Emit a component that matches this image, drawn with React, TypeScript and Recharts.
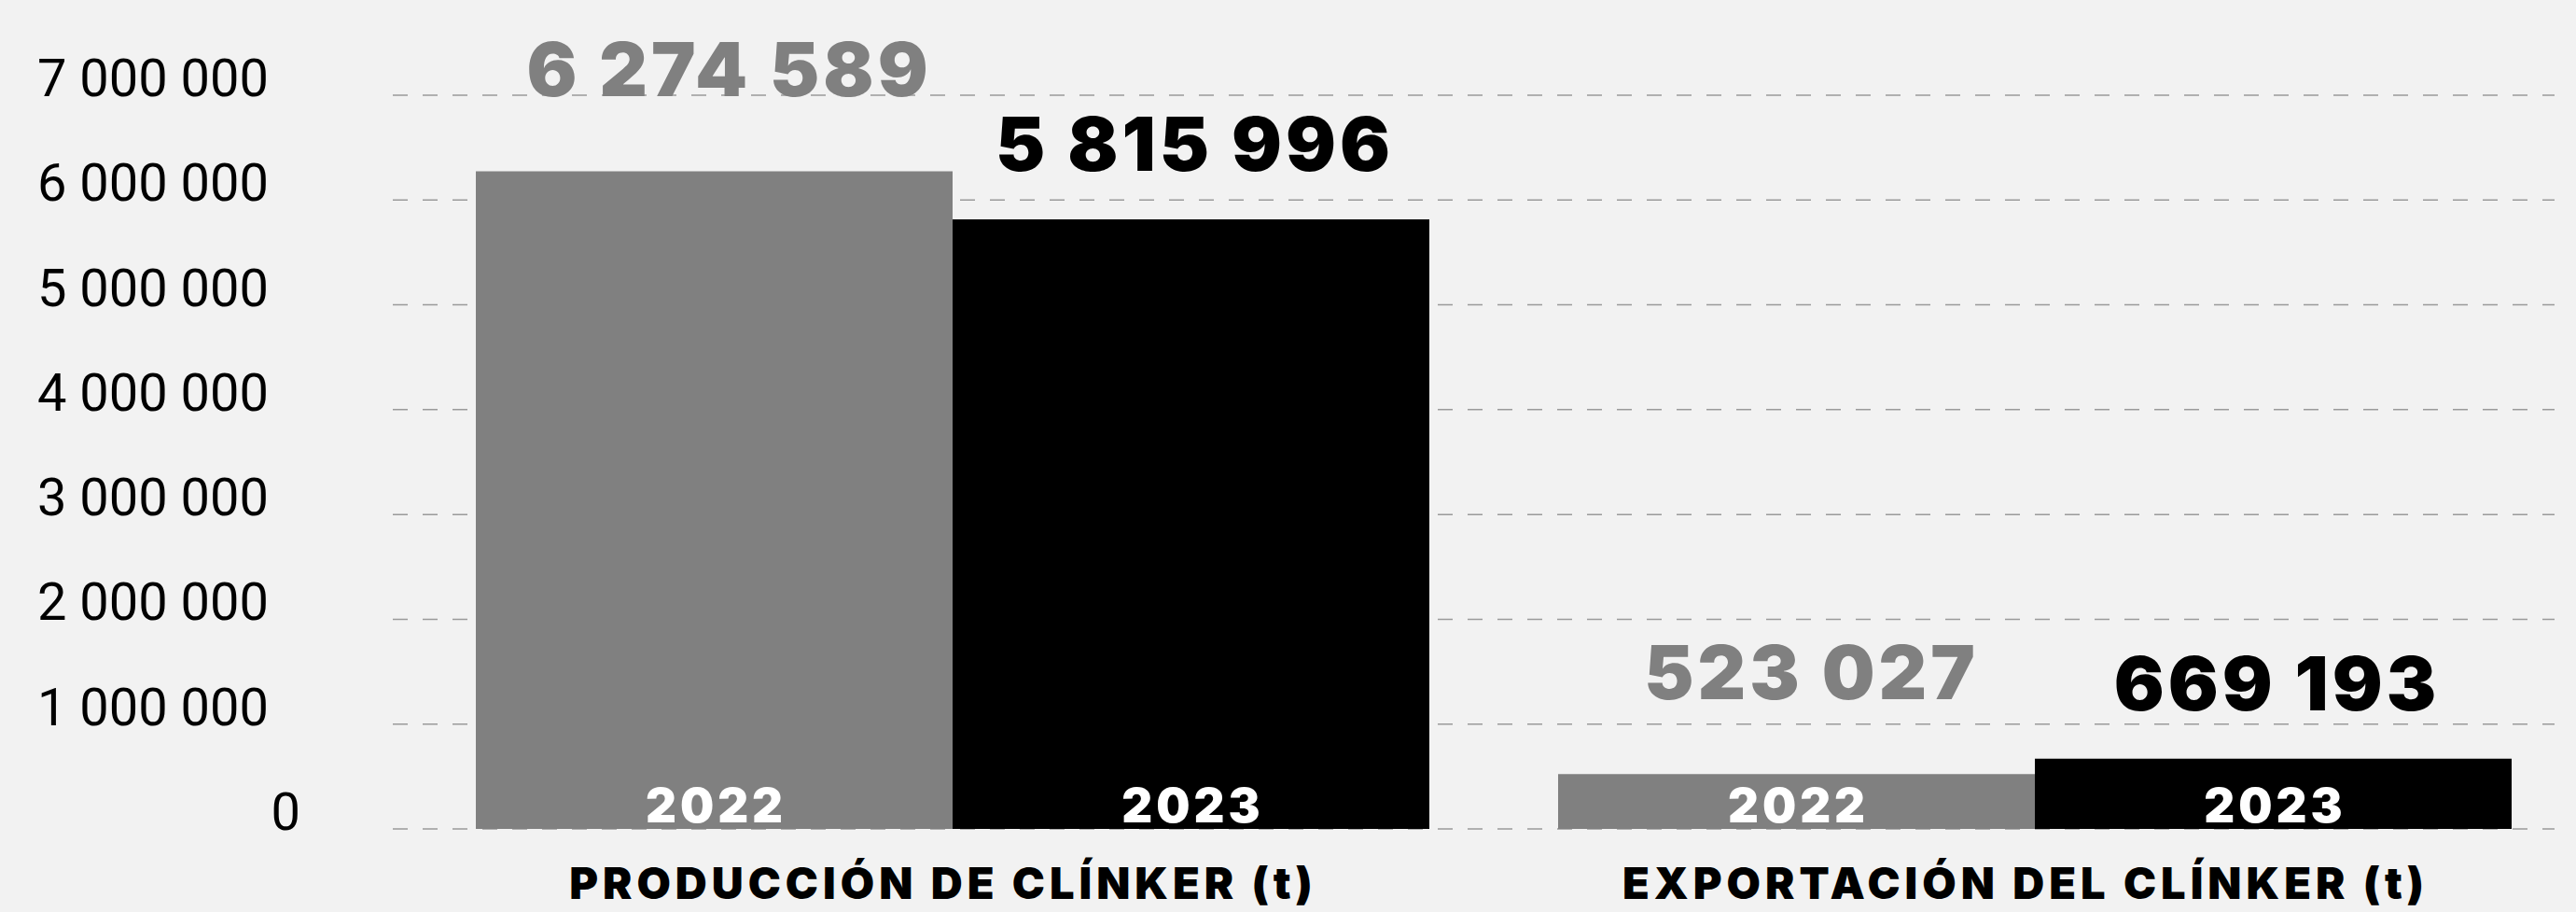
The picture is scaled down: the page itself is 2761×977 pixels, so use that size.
import React from 'react';
import { BarChart, Bar, XAxis, YAxis, CartesianGrid, LabelList } from 'recharts';

// Producción y exportación de clínker, 2022 vs 2023 (toneladas)
const categories = ['PRODUCCIÓN DE CLÍNKER (t)', 'EXPORTACIÓN DEL CLÍNKER (t)'];
const values2022 = [6274589, 523027];
const values2023 = [5815996, 669193];
const yearLabels = ['2022', '2023'];
const yTicks = [0, 1000000, 2000000, 3000000, 4000000, 5000000, 6000000, 7000000];

const GRAY = '#808080';
const BLACK = '#000000';
const HEAVY = 'Inter, Lato, "Noto Sans", sans-serif';

const data = categories.map((category, i) => ({
  category,
  v2022: values2022[i],
  v2023: values2023[i],
}));

// 6274589 -> "6 274 589"
const fmt = (v: number) => String(Math.round(v)).replace(/\B(?=(\d{3})+(?!\d))/g, ' ');

const YTick = (props: any) => {
  const { x, y, payload } = props;
  const isZero = payload.value === 0;
  return (
    <text
      x={isZero ? x + 34 : x}
      y={y + 1}
      textAnchor="end"
      fontFamily="Roboto, sans-serif"
      fontWeight={400}
      fontSize={56}
      fill="#000"
    >
      {fmt(payload.value)}
    </text>
  );
};

const XTick = (props: any) => {
  const { x, y, payload } = props;
  return (
    <text
      x={x - 10}
      y={y + 75}
      textAnchor="middle"
      fontFamily={HEAVY}
      fontWeight={900}
      fontSize={47}
      letterSpacing={5}
      fill="#000"
    >
      {payload.value}
    </text>
  );
};

const valueLabel = (color: string, gap: number, dx: number) => (props: any) => {
  const { x, y, width, value } = props;
  return (
    <text
      x={x + width / 2 + dx}
      y={y - gap}
      textAnchor="middle"
      fontFamily={HEAVY}
      fontWeight={900}
      fontSize={80}
      letterSpacing={4}
      fill={color}
    >
      {fmt(value)}
    </text>
  );
};

const yearLabel = (year: string) => (props: any) => {
  const { x, y, width, height } = props;
  return (
    <text
      x={x + width / 2 + 2}
      y={y + height - 7}
      textAnchor="middle"
      fontFamily={HEAVY}
      fontWeight={900}
      fontSize={51}
      letterSpacing={4}
      fill="#fff"
    >
      {year}
    </text>
  );
};

export default function App() {
  return (
    <div
      style={{
        position: 'absolute',
        left: 0,
        top: 0,
        width: 2761,
        height: 977,
        background: '#f2f2f2',
      }}
    >
      <BarChart
        width={2761}
        height={977}
        data={data}
        margin={{ top: 102, right: 23, left: 0, bottom: 0 }}
        barGap={0}
        barSize={511}
      >
        <CartesianGrid vertical={false} stroke="#9a9a9a" strokeWidth={1.5} strokeDasharray="16 16" />
        <XAxis
          dataKey="category"
          axisLine={false}
          tickLine={false}
          tickSize={0}
          tickMargin={0}
          height={89}
          interval={0}
          padding={{ left: 20, right: -23 }}
          tick={<XTick />}
        />
        <YAxis
          domain={[0, 7000000]}
          ticks={yTicks}
          axisLine={false}
          tickLine={false}
          tickSize={0}
          tickMargin={133}
          width={421}
          tick={<YTick />}
        />
        <Bar dataKey="v2022" fill={GRAY} isAnimationActive={false}>
          <LabelList dataKey="v2022" content={valueLabel(GRAY, 80, 16)} />
          <LabelList dataKey="v2022" content={yearLabel(yearLabels[0])} />
        </Bar>
        <Bar dataKey="v2023" fill={BLACK} isAnimationActive={false}>
          <LabelList dataKey="v2023" content={valueLabel(BLACK, 52, 4)} />
          <LabelList dataKey="v2023" content={yearLabel(yearLabels[1])} />
        </Bar>
      </BarChart>
    </div>
  );
}
